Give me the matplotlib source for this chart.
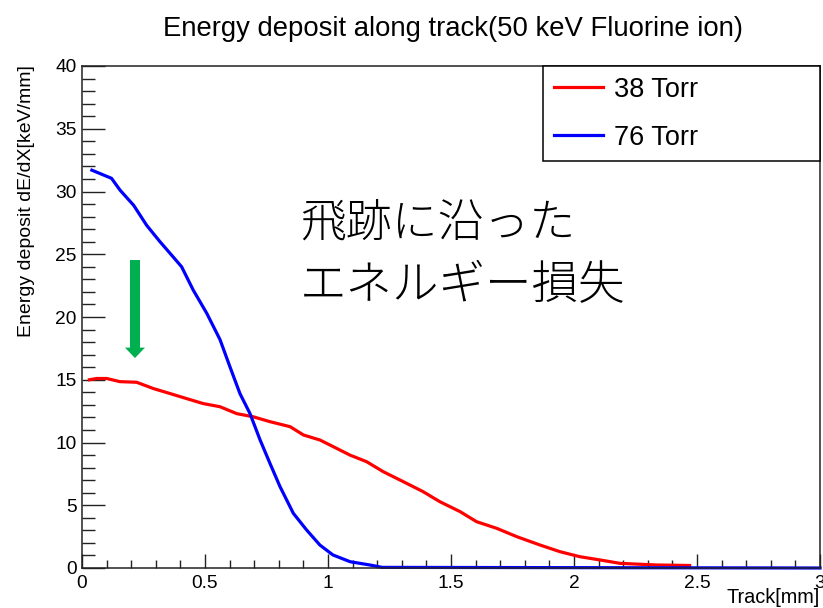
import numpy as np
import matplotlib
matplotlib.use("Agg")
from matplotlib import pyplot as plt
from matplotlib.ticker import MultipleLocator

# energy deposit along track
red_x = [0.03, 0.06, 0.10, 0.154, 0.222, 0.29, 0.358, 0.425, 0.493, 0.561, 0.629,
         0.696, 0.764, 0.846, 0.90, 0.967, 1.008, 1.089, 1.157, 1.225, 1.306, 1.387,
         1.455, 1.537, 1.604, 1.686, 1.767, 1.862, 1.943, 2.024, 2.106, 2.187, 2.336, 2.47]
red_y = [15.0, 15.1, 15.1, 14.85, 14.8, 14.3, 13.9, 13.5, 13.1, 12.85, 12.3,
         12.05, 11.66, 11.26, 10.6, 10.2, 9.8, 9.0, 8.47, 7.67, 6.88, 6.08,
         5.28, 4.49, 3.69, 3.16, 2.5, 1.83, 1.3, 0.9, 0.64, 0.37, 0.24, 0.2]

blue_x = [0.04, 0.12, 0.155, 0.21, 0.263, 0.317, 0.37, 0.405, 0.452, 0.507, 0.561,
          0.602, 0.642, 0.683, 0.724, 0.764, 0.805, 0.859, 0.913, 0.967, 1.02, 1.09,
          1.17, 1.22, 3.0]
blue_y = [31.7, 31.05, 30.1, 28.9, 27.3, 26.0, 24.8, 24.0, 22.15, 20.3, 18.2,
          16.0, 13.9, 12.3, 10.2, 8.34, 6.48, 4.36, 3.03, 1.83, 1.04, 0.5,
          0.24, 0.05, 0.0]

labels = ["38 Torr", "76 Torr"]

plt.rcParams['font.family'] = ['Liberation Sans', 'DejaVu Sans']

fig = plt.figure(figsize=(8.23, 6.08), dpi=100)
W, H = 823.0, 608.0
ax = fig.add_axes([82 / W, 1 - 568 / H, 738 / W, 502 / H])

ax.plot(red_x, red_y, color='#ff0000', lw=2.3, label=labels[0], clip_on=False)
ax.plot(blue_x, blue_y, color='#0000ff', lw=2.3, label=labels[1], clip_on=False)

ax.set_xlim(0, 3)
ax.set_ylim(0, 40)
ax.xaxis.set_major_locator(MultipleLocator(0.5))
ax.xaxis.set_minor_locator(MultipleLocator(0.1))
ax.yaxis.set_major_locator(MultipleLocator(5))
ax.yaxis.set_minor_locator(MultipleLocator(1))
ax.xaxis.set_major_formatter(plt.FuncFormatter(lambda v, p: '%g' % v))
ax.yaxis.set_major_formatter(plt.FuncFormatter(lambda v, p: '%g' % v))

ax.tick_params(which='both', direction='in', top=False, right=False,
               color='#222222', width=1.0, labelsize=13.8)
ax.tick_params(axis='y', which='major', length=16.5, pad=4)
ax.tick_params(axis='y', which='minor', length=9.4)
ax.tick_params(axis='x', which='major', length=10, pad=5)
ax.tick_params(axis='x', which='minor', length=5.8)
for s in ax.spines.values():
    s.set_linewidth(1.1)
    s.set_color('#222222')

leg = ax.legend(loc='upper left', bbox_to_anchor=(461 / 738, 1 - 93 / 502, 277 / 738, 93 / 502),
                mode='expand', borderaxespad=0, fontsize=19.5, fancybox=False,
                edgecolor='black', framealpha=1, borderpad=0.4, labelspacing=0.8,
                handlelength=1.81, handletextpad=0.41)
leg.get_frame().set_linewidth(1.1)

fig.text(453 / W, 1 - 29 / H, "Energy deposit along track(50 keV Fluorine ion)",
         ha='center', va='center', fontsize=19.8)
fig.text(27 / W, 1 - 201 / H, "Energy deposit dE/dX[keV/mm]", rotation=90,
         ha='center', va='center', fontsize=14)
fig.text(820 / W, 1 - 607 / H, "Track[mm]", ha='right', va='bottom', fontsize=14.3)

# Japanese annotation
jp = ['Noto Sans CJK JP', 'DejaVu Sans']
fig.text(300 / W, 1 - 225 / H, "飛跡に沿った", family=jp, fontweight='light',
         ha='left', va='center', fontsize=33)
fig.text(300 / W, 1 - 286 / H, "エネルギー損失", family=jp, fontweight='light',
         ha='left', va='center', fontsize=33.5)

# green arrow
ax.annotate("", xy=(0.2154, 16.73), xytext=(0.2154, 24.54),
            arrowprops=dict(arrowstyle='simple,head_length=7.5,head_width=14.4,tail_width=7.2',
                            mutation_scale=1, color='#00b050', shrinkA=0, shrinkB=0, lw=0))

fig.savefig("out.png", dpi=100)
